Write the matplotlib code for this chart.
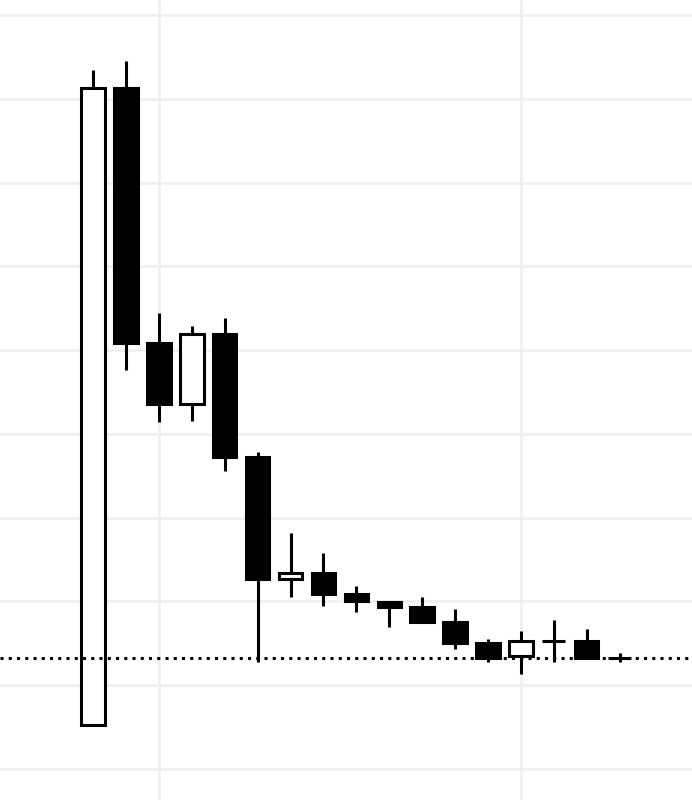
import matplotlib
matplotlib.use("Agg")
import matplotlib.pyplot as plt
import numpy as np

# OHLC values
opens = [-4.8, 71.3, 40.8, 33.6, 41.9, 27.2, 12.7, 13.4, 10.9, 9.9, 9.3, 7.6, 5.0, 3.5, 5.3, 5.3, 3.2]
highs = [73.4, 74.5, 44.4, 42.9, 43.8, 27.9, 18.2, 15.8, 11.8, 9.9, 10.5, 9.1, 5.5, 6.5, 7.8, 6.7, 3.9]
lows = [-4.8, 37.6, 31.4, 31.5, 25.6, 2.8, 10.5, 9.4, 8.7, 7.0, 7.4, 4.3, 2.8, 1.4, 2.8, 3.2, 2.8]
closes = [71.3, 40.8, 33.6, 41.9, 27.2, 12.7, 13.4, 10.9, 10.0, 9.3, 7.6, 5.0, 3.3, 5.3, 5.3, 3.2, 3.2]
last_price = 3.2

x = np.arange(len(opens))
o = np.array(opens)
c = np.array(closes)

fig = plt.figure(figsize=(6.92, 8), dpi=100)
ax = fig.add_axes([0, 0, 1, 1])

lw = 2.2
ax.vlines(x, lows, highs, color='black', linewidth=lw, zorder=2)

up = c >= o
bottom = np.minimum(o, c)
height = np.maximum(np.abs(c - o), 0.02)
ax.bar(x[up], height[up], bottom=bottom[up], width=0.71,
       facecolor='white', edgecolor='black', linewidth=lw, zorder=3)
ax.bar(x[~up], height[~up], bottom=bottom[~up], width=0.71,
       facecolor='black', edgecolor='black', linewidth=lw, zorder=3)

# last price line
ax.axhline(last_price, color='black', linewidth=2.2, linestyle=(0, (1, 1.7)), zorder=4)

ax.set_xlim(-2.83, 18.2)
ax.set_ylim(-13.7, 81.8)
ax.set_xticks([2, 13])
ax.set_yticks(np.arange(-10, 81, 10))
ax.grid(True, color='#eeeeee', linewidth=1.8, zorder=0)
ax.set_axisbelow(True)
ax.tick_params(length=0, labelbottom=False, labelleft=False)
for s in ax.spines.values():
    s.set_visible(False)

fig.savefig("out.png", dpi=100)
